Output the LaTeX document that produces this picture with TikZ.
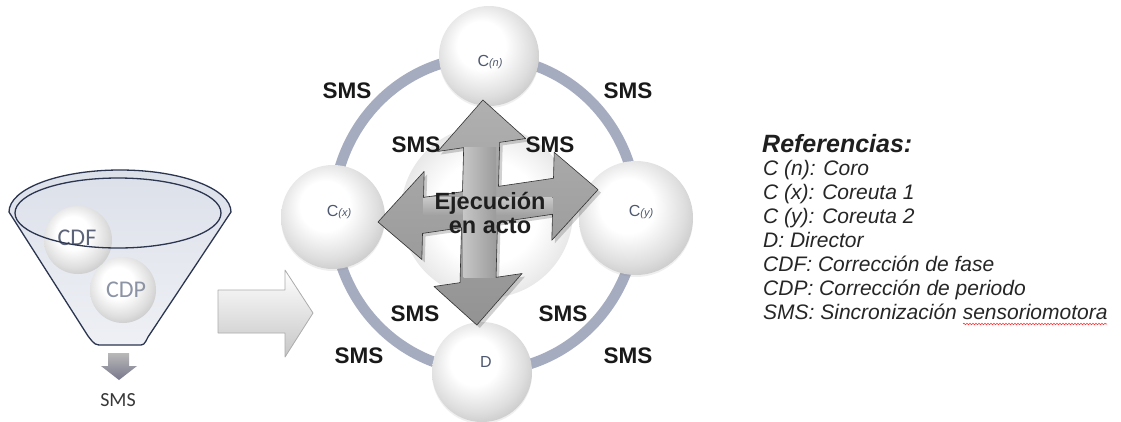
\documentclass[tikz,border=0pt]{standalone}
\usepackage{fontspec}
\setmainfont{Liberation Sans}
\newfontfamily\calib{Carlito}
\usetikzlibrary{shadows,decorations.pathmorphing}
\definecolor{ringc}{HTML}{A6ACBF}
\definecolor{navy}{HTML}{2B3550}
\definecolor{lblc}{HTML}{4E586F}
\definecolor{funtop}{HTML}{DCE0E9}
\definecolor{funbot}{HTML}{EEF0F5}
\definecolor{cdfc}{HTML}{5D6479}
\definecolor{cdpc}{HTML}{8C93A4}
\pgfdeclareradialshading{softball}{\pgfqpoint{-5bp}{7bp}}{color(0bp)=(white); color(12bp)=(white); color(24bp)=(black!13); color(29bp)=(black!20); color(50bp)=(black!20)}
\pgfdeclareradialshading{softmid}{\pgfqpoint{0bp}{0bp}}{color(0bp)=(white); color(15bp)=(white); color(25bp)=(black!9); color(50bp)=(black!9)}
\tikzset{
  sphere/.style={circle, inner sep=0pt, minimum size=#1, shading=softball,
     drop shadow={opacity=0.12, shadow xshift=0pt, shadow yshift=-2pt}},
  sphereflat/.style={circle, inner sep=0pt, minimum size=#1, shading=softball},
  sms/.style={font=\fontsize{22.5}{22.5}\selectfont\bfseries, text=black!90, inner sep=0pt},
  clbl/.style={font=\fontsize{16}{16}\selectfont, text=lblc, inner sep=0pt},
  legendline/.style={font=\fontsize{21}{21}\selectfont\itshape, anchor=base west, inner sep=0pt, text=black!85},
  qfill/.style={shade, top color=gray!62, bottom color=gray!85},
  qedge/.style={draw=gray!40!black, line width=0.6pt, line join=round},
  funline/.style={draw=navy, line width=1.3pt},
}
\begin{document}
\begin{tikzpicture}[x=1pt,y=-1pt]
\fill[white] (0,0) rectangle (1121,421);
\useasboundingbox (0,0) rectangle (1121,421);

% ---------------- funnel ----------------
\path[shade, top color=funtop, bottom color=funbot]
  (9,212) arc[start angle=180,end angle=0,x radius=111pt,y radius=42pt]
  -- (148,337) .. controls (144,345) .. (138,345) -- (103,345) .. controls (95,345) .. (88,336) -- cycle;
\node[sphereflat=68pt] (cdfb) at (78,240) {};
\node[sphereflat=66pt] (cdpb) at (123,290) {};
\node[font=\calib\fontsize{24}{24}\selectfont, text=cdfc, inner sep=0pt] (cdf) at (77,238) {CDF};
\node[font=\calib\fontsize{24}{24}\selectfont, text=cdpc, inner sep=0pt] (cdp) at (126,290) {CDP};
\path[funline]
  (9,212) arc[start angle=180,end angle=0,x radius=111pt,y radius=42pt]
  -- (148,337) .. controls (144,345) .. (138,345) -- (103,345) .. controls (95,345) .. (88,336) -- cycle;
\draw[funline] (118,213) ellipse[x radius=103pt, y radius=35pt];
% small down arrow
\path[shade, top color=gray!55, bottom color=gray!80!blue!60!black!70]
  (108,353) -- (129,353) -- (129,366) -- (137,366) -- (119,380) -- (101,366) -- (108,366) -- cycle;
\node[font=\calib\fontsize{20}{20}\selectfont, text=black!78, inner sep=0pt] (smsf) at (118,400) {SMS};

% ---------------- big right arrow ----------------
\path[shade, top color=white, bottom color=gray!45, draw=gray!65, line width=0.8pt, line join=round]
  (218,290) -- (285,290) -- (285,270) -- (313,313) -- (285,357) -- (285,333) -- (218,333) -- cycle;

% ---------------- ring and spheres ----------------
\draw[ringc, line width=10.5pt] (485,214) ellipse[x radius=152pt, y radius=157pt];
\node[circle, minimum size=172pt, inner sep=0pt, shading=softmid] (mid) at (487,212) {};
\node[sphere=100pt] (cn) at (489,56) {};
\node[sphere=104pt] (cx) at (333,217) {};
\node[sphere=114pt] (cy) at (636,218) {};
\node[sphere=100pt] (d) at (482,372) {};
\node[clbl] (cnl) at (490,62) {C{\fontsize{11}{11}\selectfont\itshape(n)}};
\node[clbl] (cxl) at (339,212) {C{\fontsize{11}{11}\selectfont\itshape(x)}};
\node[clbl] (cyl) at (641,212) {C{\fontsize{11}{11}\selectfont\itshape(y)}};
\node[clbl] (dl) at (486,362) {D};

% ---------------- quad arrow ----------------
\coordinate (qc) at (480,207);
\begin{scope}[shift={(qc)}, x={(1pt,0.147pt)}, y={(-0.027pt,-1pt)}]
  \def\qpath{(0,-107) -- (44,-62) -- (18,-62) -- (18,-18) -- (73,-18) -- (73,-44) -- (118,0) -- (73,44) -- (73,18) -- (18,18) -- (18,73) -- (44,73) -- (0,118) -- (-44,73) -- (-18,73) -- (-18,18) -- (-57,18) -- (-57,44) -- (-102,0) -- (-57,-44) -- (-57,-18) -- (-18,-18) -- (-18,-62) -- (-44,-62) -- cycle}
  \fill[black, opacity=0.18, xshift=3pt, yshift=-3pt] \qpath;
  \path[qfill] \qpath;
  \fill[top color=gray!42, bottom color=gray!72] (-57,-18) rectangle (73,18);
  \fill[left color=gray!45, right color=gray!78] (-18,-62) rectangle (18,73);
  \path[qedge] \qpath;
\end{scope}
\node[font=\fontsize{23.5}{24}\selectfont\bfseries, align=center, text=black!88, inner sep=0pt] (ej) at (490,213) {Ejecución\\en acto};

% ---------------- SMS labels ----------------
\node[sms] (s1) at (347,91) {SMS};
\node[sms] (s2) at (628,91) {SMS};
\node[sms] (s3) at (416,145) {SMS};
\node[sms] (s4) at (550,145) {SMS};
\node[sms] (s5) at (415,314) {SMS};
\node[sms] (s6) at (563,314) {SMS};
\node[sms] (s7) at (359,356) {SMS};
\node[sms] (s8) at (628,356) {SMS};

% ---------------- legend ----------------
\node[font=\fontsize{25}{25}\selectfont\bfseries\itshape, anchor=base west, inner sep=0pt, text=black!88] (ref) at (762,152) {Referencias:};
\node[legendline] (l1) at (763,175) {C (n): Coro};
\node[legendline] (l2) at (763,199) {C (x): Coreuta 1};
\node[legendline] (l3) at (763,223) {C (y): Coreuta 2};
\node[legendline] (l4) at (763,247) {D: Director};
\node[legendline] (l5) at (763,271) {CDF: Corrección de fase};
\node[legendline] (l6) at (763,295) {CDP: Corrección de periodo};
\node[legendline] (l7) at (763,319) {SMS: Sincronización sensoriomotora};
\coordinate (sq1) at (963,324);
\coordinate (sq2) at (1107,324);
\draw[red!80, line width=0.6pt, decorate, decoration={snake, amplitude=0.8pt, segment length=3pt}] (sq1) -- (sq2);
\end{tikzpicture}
\end{document}
